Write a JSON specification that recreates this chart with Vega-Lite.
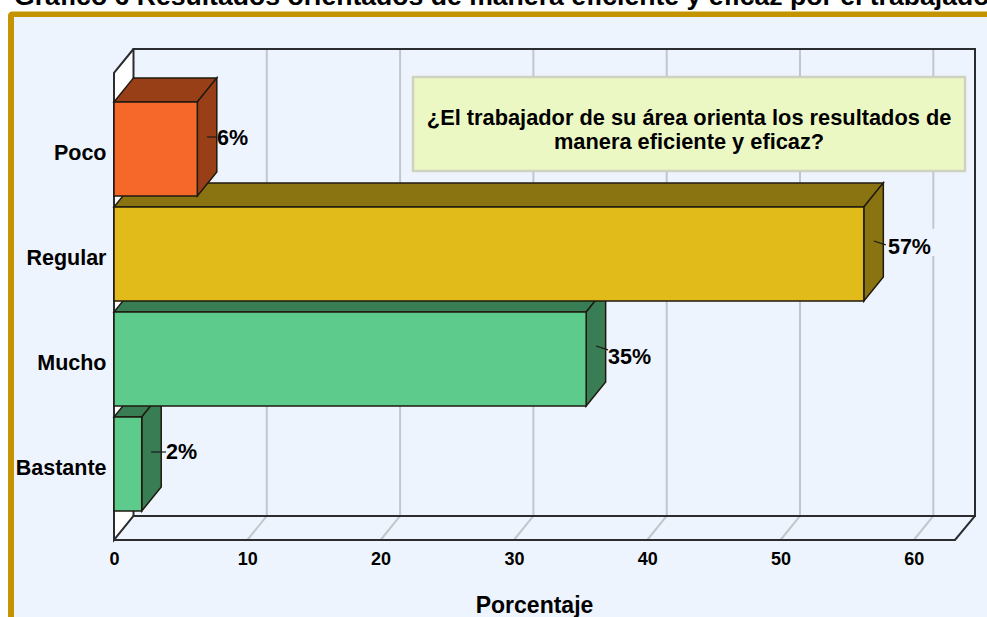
{
"$schema":"https://vega.github.io/schema/vega-lite/v6.json",
"width":861,"height":491,"autosize":"none",
"padding":{"left":114,"top":49,"right":12,"bottom":77},
"background":"#ffffff",
"config":{"view":{"stroke":null}},
"datasets":{
"bars":[
{"cat":"Bastante","porcentaje":2.08,"cero":0,"lo":0.552,"hi":1.448},
{"cat":"Mucho","porcentaje":35.42,"cero":0,"lo":1.552,"hi":2.448},
{"cat":"Regular","porcentaje":56.25,"cero":0,"lo":2.552,"hi":3.448},
{"cat":"Poco","porcentaje":6.25,"cero":0,"lo":3.552,"hi":4.448}
],
"faces":[
{"cat":"Bastante 3D","k":"b1","v":0,"a":1.448,"b":1.448},{"cat":"Bastante 3D","k":"b1","v":1.4625,"a":1.448,"b":1.677},{"cat":"Bastante 3D","k":"b1","v":2.08,"a":1.448,"b":1.677},{"cat":"Bastante 3D","k":"b1","v":3.5425,"a":1.677,"b":1.677},
{"cat":"Bastante 3D","k":"b2","v":2.08,"a":0.552,"b":1.448},{"cat":"Bastante 3D","k":"b2","v":3.5425,"a":0.781,"b":1.677},
{"cat":"Mucho 3D","k":"m1","v":0,"a":2.448,"b":2.448},{"cat":"Mucho 3D","k":"m1","v":1.4625,"a":2.448,"b":2.677},{"cat":"Mucho 3D","k":"m1","v":35.42,"a":2.448,"b":2.677},{"cat":"Mucho 3D","k":"m1","v":36.8825,"a":2.677,"b":2.677},
{"cat":"Mucho 3D","k":"m2","v":35.42,"a":1.552,"b":2.448},{"cat":"Mucho 3D","k":"m2","v":36.8825,"a":1.781,"b":2.677},
{"cat":"Regular 3D","k":"r1","v":0,"a":3.448,"b":3.448},{"cat":"Regular 3D","k":"r1","v":1.4625,"a":3.448,"b":3.677},{"cat":"Regular 3D","k":"r1","v":56.25,"a":3.448,"b":3.677},{"cat":"Regular 3D","k":"r1","v":57.7125,"a":3.677,"b":3.677},
{"cat":"Regular 3D","k":"r2","v":56.25,"a":2.552,"b":3.448},{"cat":"Regular 3D","k":"r2","v":57.7125,"a":2.781,"b":3.677},
{"cat":"Poco 3D","k":"p1","v":0,"a":4.448,"b":4.448},{"cat":"Poco 3D","k":"p1","v":1.4625,"a":4.448,"b":4.677},{"cat":"Poco 3D","k":"p1","v":6.25,"a":4.448,"b":4.677},{"cat":"Poco 3D","k":"p1","v":7.7125,"a":4.677,"b":4.677},
{"cat":"Poco 3D","k":"p2","v":6.25,"a":3.552,"b":4.448},{"cat":"Poco 3D","k":"p2","v":7.7125,"a":3.781,"b":4.677}
],
"grid":[
{"g":"10","o":1,"v":11.4625,"u":4.952},{"g":"10","o":2,"v":11.4625,"u":0.505},{"g":"10","o":3,"v":10,"u":0.276},
{"g":"20","o":1,"v":21.4625,"u":4.952},{"g":"20","o":2,"v":21.4625,"u":0.505},{"g":"20","o":3,"v":20,"u":0.276},
{"g":"30","o":1,"v":31.4625,"u":4.952},{"g":"30","o":2,"v":31.4625,"u":0.505},{"g":"30","o":3,"v":30,"u":0.276},
{"g":"40","o":1,"v":41.4625,"u":4.952},{"g":"40","o":2,"v":41.4625,"u":0.505},{"g":"40","o":3,"v":40,"u":0.276},
{"g":"50","o":1,"v":51.4625,"u":4.952},{"g":"50","o":2,"v":51.4625,"u":0.505},{"g":"50","o":3,"v":50,"u":0.276},
{"g":"60a","o":1,"v":61.4625,"u":4.952},{"g":"60a","o":2,"v":61.4625,"u":3.24},
{"g":"60b","o":1,"v":61.4625,"u":2.98},{"g":"60b","o":2,"v":61.4625,"u":0.505},{"g":"60b","o":3,"v":60,"u":0.276}
],
"frame":[
{"g":"back","o":1,"v":1.4625,"u":0.505},{"g":"back","o":2,"v":1.4625,"u":4.952},{"g":"back","o":3,"v":64.59,"u":4.952},{"g":"back","o":4,"v":64.59,"u":0.505},{"g":"back","o":5,"v":1.4625,"u":0.505},
{"g":"left","o":1,"v":1.4625,"u":4.952},{"g":"left","o":2,"v":0,"u":4.724},{"g":"left","o":3,"v":0,"u":0.276},{"g":"left","o":4,"v":1.4625,"u":0.505},
{"g":"floor","o":1,"v":0,"u":0.276},{"g":"floor","o":2,"v":63.09,"u":0.276},{"g":"floor","o":3,"v":64.59,"u":0.505}
],
"wall":[{"v":0,"a":0.276,"b":4.724},{"v":1.4625,"a":0.505,"b":4.952}],
"leaders":[
{"g":"Poco","o":1,"v":6.98,"u":4.114},{"g":"Poco","o":2,"v":7.65,"u":4.114},
{"g":"Regular","o":1,"v":57.0,"u":3.124},{"g":"Regular","o":2,"v":57.9,"u":3.086},
{"g":"Mucho","o":1,"v":36.16,"u":2.124},{"g":"Mucho","o":2,"v":37.06,"u":2.086},
{"g":"Bastante","o":1,"v":2.78,"u":1.114},{"g":"Bastante","o":2,"v":3.9,"u":1.114}
],
"labels":[
{"label":"6%","v":7.73,"u":4.095},{"label":"57%","v":58.06,"u":3.057},{"label":"35%","v":37.06,"u":2.009},{"label":"2%","v":3.9,"u":1.104}
],
"note":[
{"line":"¿El trabajador de su área orienta los resultados de","v":43.14,"u":4.295},
{"line":"manera eficiente y eficaz?","v":43.14,"u":4.065}
],
"marco":[{"line":"Gráfico 6 Resultados orientados de manera eficiente y eficaz por el trabajador","ax":-7.95,"bx":72,"ay":5.31,"by":-2,"cx":-7.5,"cy":5.257,"ty":5.375}],
"box":[{"ax":22.43,"bx":63.84,"ay":4.686,"by":3.79}]
},
"layer":[
{"data":{"name":"marco"},"mark":{"type":"rect","fill":"#C49400","cornerRadius":4},
 "encoding":{
  "x":{"field":"ax","type":"quantitative","scale":{"domain":[0,64.59],"nice":false,"zero":false},
   "axis":{"values":[0,10,20,30,40,50,60],"grid":false,"domain":false,"ticks":false,"zindex":1,"labelFont":"Liberation Sans","labelFontWeight":"bold","labelFontSize":18,"labelColor":"#000000","labelPadding":10,"labelFlush":false,"title":"Porcentaje","titleFont":"Liberation Sans","titleFontWeight":"bold","titleFontSize":23,"titleColor":"#000000","titleX":420,"titleY":54,"format":"d"}},
  "x2":{"field":"bx"},
  "y":{"field":"ay","type":"quantitative","scale":{"domain":[0.276,4.952],"nice":false,"zero":false},
   "axis":{"values":[1,2,3,4],"grid":false,"domain":false,"ticks":false,"zindex":1,"labelFont":"Liberation Sans","labelFontWeight":"bold","labelFontSize":21.5,"labelColor":"#000000","labelPadding":8,"labelOffset":5,"title":null,"labelExpr":"datum.value==1?'Bastante':datum.value==2?'Mucho':datum.value==3?'Regular':'Poco'"}},
  "y2":{"field":"by"}}},
{"data":{"name":"marco"},"mark":{"type":"rect","fill":"#EEF4FD"},
 "encoding":{"x":{"field":"cx","type":"quantitative"},"x2":{"field":"bx"},"y":{"field":"cy","type":"quantitative"},"y2":{"field":"by"}}},
{"data":{"name":"marco"},"mark":{"type":"text","align":"left","baseline":"alphabetic","font":"Liberation Sans","fontWeight":"bold","fontSize":26.6,"color":"#000000"},
 "encoding":{"x":{"field":"cx","type":"quantitative"},"y":{"field":"ty","type":"quantitative"},"text":{"field":"line","type":"nominal"}}},
{"data":{"name":"wall"},"mark":{"type":"area","fill":"#ffffff"},
 "encoding":{"x":{"field":"v","type":"quantitative"},"y":{"field":"a","type":"quantitative"},"y2":{"field":"b"}}},
{"data":{"name":"grid"},"mark":{"type":"line","stroke":"#C3C6CA","strokeWidth":2},
 "encoding":{"x":{"field":"v","type":"quantitative"},"y":{"field":"u","type":"quantitative"},"detail":{"field":"g","type":"nominal"},"order":{"field":"o","type":"quantitative"}}},
{"data":{"name":"frame"},"mark":{"type":"line","stroke":"#2A2C30","strokeWidth":2},
 "encoding":{"x":{"field":"v","type":"quantitative"},"y":{"field":"u","type":"quantitative"},"detail":{"field":"g","type":"nominal"},"order":{"field":"o","type":"quantitative"}}},
{"data":{"name":"box"},"mark":{"type":"rect","fill":"#ECF8C4","stroke":"#CFD2BE","strokeWidth":2.5},
 "encoding":{"x":{"field":"ax","type":"quantitative"},"x2":{"field":"bx"},"y":{"field":"ay","type":"quantitative"},"y2":{"field":"by"}}},
{"data":{"name":"note"},"mark":{"type":"text","align":"center","baseline":"middle","font":"Liberation Sans","fontWeight":"bold","fontSize":21.8,"color":"#000000"},
 "encoding":{"x":{"field":"v","type":"quantitative"},"y":{"field":"u","type":"quantitative"},"text":{"field":"line","type":"nominal"}}},
{"data":{"name":"faces"},"mark":{"type":"area","stroke":"#1F1A10","strokeWidth":1.5},
 "encoding":{"x":{"field":"v","type":"quantitative"},"y":{"field":"a","type":"quantitative"},"y2":{"field":"b"},"detail":{"field":"k","type":"nominal"},
  "color":{"field":"cat","type":"nominal","legend":null,"scale":{"domain":["Poco","Regular","Mucho","Bastante","Poco 3D","Regular 3D","Mucho 3D","Bastante 3D"],"range":["#F5682A","#E1BB1A","#5DCB8C","#5DCB8C","#983F17","#8A7411","#387D53","#387D53"]}}}},
{"data":{"name":"bars"},"mark":{"type":"rect","stroke":"#1F1A10","strokeWidth":1.5},
 "encoding":{"x":{"field":"cero","type":"quantitative"},"x2":{"field":"porcentaje"},"y":{"field":"lo","type":"quantitative"},"y2":{"field":"hi"},
  "color":{"field":"cat","type":"nominal","legend":null}}},
{"data":{"name":"leaders"},"mark":{"type":"line","stroke":"#1A1A1A","strokeWidth":1.2},
 "encoding":{"x":{"field":"v","type":"quantitative"},"y":{"field":"u","type":"quantitative"},"detail":{"field":"g","type":"nominal"},"order":{"field":"o","type":"quantitative"}}},
{"data":{"name":"labels"},"mark":{"type":"text","align":"left","baseline":"middle","font":"Liberation Sans","fontWeight":"bold","fontSize":21.5,"color":"#000000"},
 "encoding":{"x":{"field":"v","type":"quantitative"},"y":{"field":"u","type":"quantitative"},"text":{"field":"label","type":"nominal"}}}
]
}
